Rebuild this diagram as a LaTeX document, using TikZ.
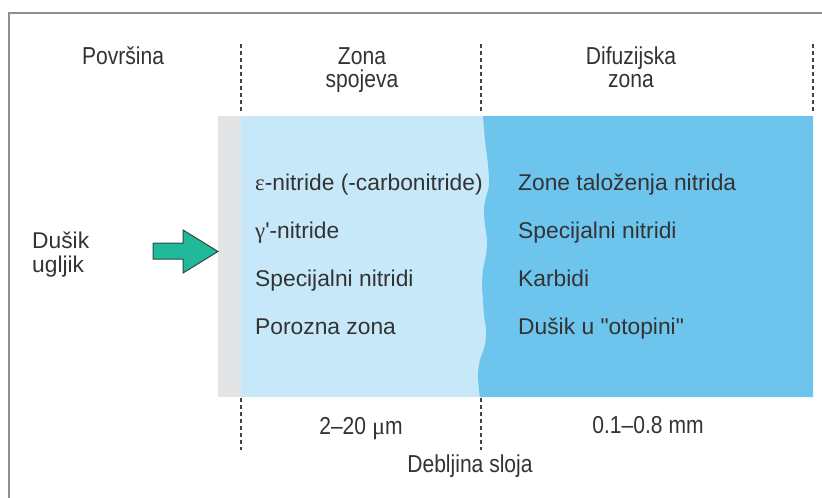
\documentclass[tikz,border=0pt]{standalone}
\usepackage{fontspec}
\setmainfont[Ligatures=TeXOff]{Liberation Sans}
\newfontfamily\hdfont[FakeStretch=0.86,Ligatures=TeXOff]{Liberation Sans}
\newfontfamily\grkfont{Liberation Serif}
\definecolor{framecol}{HTML}{8E8E8E}
\definecolor{txtcol}{HTML}{333333}
\definecolor{graystrip}{HTML}{E3E4E6}
\definecolor{lightblue}{HTML}{C7E8F8}
\definecolor{darkblue}{HTML}{6DC5EE}
\definecolor{arrowfill}{HTML}{22B99B}
\definecolor{arrowline}{HTML}{2E4A45}
\definecolor{dashcol}{HTML}{444444}
\begin{document}
\begin{tikzpicture}[x=1pt,y=-1pt,
  body/.style={anchor=base west,inner sep=0pt,text=txtcol,font=\fontsize{22.8}{24}\selectfont},
  hd/.style={anchor=base,inner sep=0pt,text=txtcol,align=center,font=\hdfont\fontsize{24.5}{23}\selectfont},
  divider/.style={draw=dashcol,line width=1.2pt,dash pattern=on 4pt off 3pt}]
\useasboundingbox (0,0) rectangle (822,498);
% frame
\draw[framecol,line width=2pt] (9,498) -- (9,12.7) -- (822,12.7);
% layers
\fill[graystrip] (218,116) rectangle (242,397);
\fill[lightblue] (241,116) rectangle (495,397);
\fill[darkblue] (813,116) -- (483,116) -- plot[smooth,tension=0.6] coordinates {(483,116) (485,140) (488,165) (489,185) (486,197) (484,210) (485,225) (487,240) (486,255) (483,270) (482,285) (483,300) (484,315) (486,330) (485,345) (480,360) (478,375) (479,390) (480,397)} -- (813,397) -- cycle;
% dividers
\foreach \n/\x in {a/241,b/481,c/813}{
  \coordinate (t\n1) at (\x,44); \coordinate (t\n2) at (\x,113);
  \coordinate (b\n1) at (\x,398); \coordinate (b\n2) at (\x,450);
}
\draw[divider] (ta1) -- (ta2); \draw[divider] (tb1) -- (tb2); \draw[divider] (tc1) -- (tc2);
\draw[divider] (ba1) -- (ba2); \draw[divider] (bb1) -- (bb2);
% headers (base anchor = last line)
\node[hd] (pov) at (123,64) {Površina};
\node[hd] (zs) at (362,87) {Zona\\spojeva};
\node[hd] (dz) at (631,87) {Difuzijska\\zona};
% left column
\node[body] (l1) at (255,190) {{\grkfont ε}-nitride (-carbonitride)};
\node[body] (l2) at (255,238) {{\grkfont γ}'-nitride};
\node[body] (l3) at (255,286) {Specijalni nitridi};
\node[body] (l4) at (255,334) {Porozna zona};
% right column
\node[body] (r1) at (518,190) {Zone taloženja nitrida};
\node[body] (r2) at (518,238) {Specijalni nitridi};
\node[body] (r3) at (518,286) {Karbidi};
\node[body] (r4) at (518,334) {Dušik u "otopini"};
% nitrogen label
\node[body,align=left] (du) at (32,272) {Dušik\\ugljik};
% arrow
\draw[arrowline,fill=arrowfill,line width=1pt,line join=miter]
  (153,243) -- (183,243) -- (183,230) -- (218,251.5) -- (183,273) -- (183,259) -- (153,259) -- cycle;
% bottom
\node[hd] (t1) at (361,434) {2–20 {\grkfont μ}m};
\node[hd] (t2) at (648,433) {0.1–0.8 mm};
\node[hd] (db) at (470,472) {Debljina sloja};
\end{tikzpicture}
\end{document}
